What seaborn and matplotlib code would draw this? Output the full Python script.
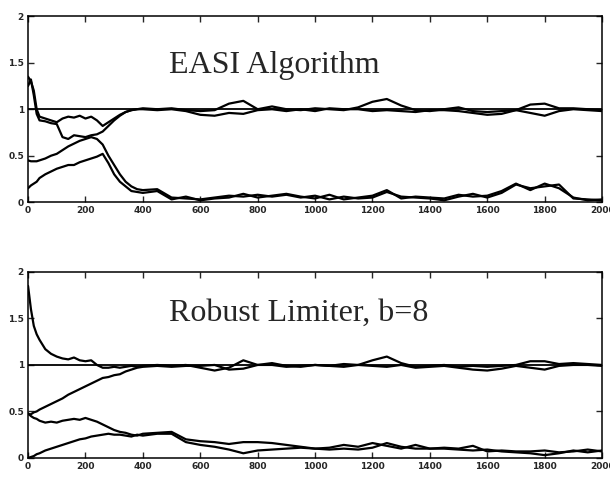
import matplotlib
matplotlib.use("Agg")
import matplotlib.pyplot as plt
import seaborn as sns

# sample positions (iterations)
iters = [0, 10, 20, 30, 40, 60, 80, 100, 120, 140, 160, 180, 200, 220, 240, 260,
         280, 300, 320, 340, 360, 380, 400, 450, 500, 550, 600, 650, 700, 750, 800,
         850, 900, 950, 1000, 1050, 1100, 1150, 1200, 1250, 1300, 1350, 1400, 1450,
         1500, 1550, 1600, 1650, 1700, 1750, 1800, 1850, 1900, 1950, 2000]

ref_level = 1.0

# EASI algorithm
easi_a = [1.35, 1.30, 1.20, 1.00, 0.92, 0.90, 0.88, 0.86, 0.90, 0.92, 0.91, 0.93, 0.90, 0.92,
          0.88, 0.82, 0.86, 0.90, 0.94, 0.97, 0.99, 1.00, 1.01, 1.00, 1.01, 0.99, 0.98, 0.99,
          1.06, 1.09, 1.00, 1.03, 1.00, 0.99, 1.01, 1.00, 0.99, 1.02, 1.08, 1.11, 1.04, 0.99,
          0.98, 1.00, 1.02, 0.98, 0.97, 0.98, 0.99, 1.05, 1.06, 1.01, 1.01, 1.00, 0.99]
easi_b = [1.25, 1.32, 1.15, 0.95, 0.88, 0.87, 0.85, 0.84, 0.70, 0.68, 0.72, 0.71, 0.70, 0.72,
          0.73, 0.76, 0.82, 0.88, 0.93, 0.97, 0.99, 1.00, 1.00, 0.99, 1.00, 0.98, 0.94, 0.93,
          0.96, 0.95, 0.99, 1.00, 0.98, 1.00, 0.98, 1.01, 1.00, 1.00, 0.98, 0.99, 0.98, 0.97,
          0.99, 0.99, 0.98, 0.96, 0.94, 0.95, 0.99, 0.96, 0.93, 0.98, 1.00, 0.99, 0.98]
easi_c = [0.45, 0.44, 0.44, 0.44, 0.45, 0.47, 0.50, 0.52, 0.56, 0.60, 0.63, 0.66, 0.68, 0.70,
          0.68, 0.62, 0.50, 0.40, 0.30, 0.22, 0.17, 0.14, 0.13, 0.14, 0.05, 0.04, 0.03, 0.05,
          0.07, 0.06, 0.08, 0.06, 0.08, 0.05, 0.07, 0.03, 0.06, 0.04, 0.05, 0.11, 0.06, 0.05,
          0.04, 0.02, 0.06, 0.09, 0.05, 0.10, 0.19, 0.15, 0.17, 0.19, 0.04, 0.03, 0.02]
easi_d = [0.15, 0.18, 0.20, 0.22, 0.26, 0.30, 0.33, 0.36, 0.38, 0.40, 0.40, 0.43, 0.45, 0.47,
          0.49, 0.52, 0.42, 0.30, 0.22, 0.17, 0.12, 0.11, 0.10, 0.12, 0.03, 0.06, 0.02, 0.04,
          0.05, 0.09, 0.05, 0.07, 0.09, 0.06, 0.04, 0.08, 0.03, 0.05, 0.07, 0.13, 0.04, 0.06,
          0.05, 0.04, 0.08, 0.06, 0.07, 0.12, 0.20, 0.13, 0.20, 0.15, 0.05, 0.02, 0.03]

# robust limiter, b=8
rob_e = [1.85, 1.60, 1.42, 1.33, 1.27, 1.17, 1.12, 1.09, 1.07, 1.06, 1.08, 1.05, 1.04, 1.05,
         1.00, 0.97, 0.97, 0.98, 0.97, 0.98, 0.99, 0.98, 0.99, 1.00, 0.99, 1.00, 0.97, 0.94,
         0.97, 1.05, 1.00, 1.02, 0.99, 0.98, 1.00, 0.99, 1.01, 1.00, 1.05, 1.09, 1.02, 0.98,
         0.99, 1.00, 0.98, 0.99, 0.98, 0.99, 1.00, 1.04, 1.04, 1.01, 1.02, 1.01, 1.00]
rob_f = [0.47, 0.47, 0.49, 0.50, 0.52, 0.55, 0.58, 0.61, 0.64, 0.68, 0.71, 0.74, 0.77, 0.80,
         0.83, 0.86, 0.87, 0.89, 0.90, 0.93, 0.95, 0.97, 0.98, 0.99, 0.98, 0.99, 0.99, 1.00,
         0.95, 0.96, 1.00, 1.00, 0.98, 0.99, 1.00, 0.99, 0.98, 1.00, 0.99, 0.98, 1.00, 0.97,
         0.98, 0.99, 0.97, 0.95, 0.94, 0.96, 0.99, 0.97, 0.95, 0.99, 1.00, 1.00, 0.99]
rob_g = [0.48, 0.45, 0.43, 0.42, 0.40, 0.38, 0.39, 0.38, 0.40, 0.41, 0.42, 0.41, 0.43, 0.41,
         0.39, 0.36, 0.33, 0.30, 0.28, 0.27, 0.25, 0.24, 0.26, 0.27, 0.28, 0.20, 0.18, 0.17,
         0.15, 0.17, 0.17, 0.16, 0.14, 0.12, 0.10, 0.11, 0.14, 0.12, 0.16, 0.13, 0.10, 0.14,
         0.10, 0.11, 0.10, 0.13, 0.07, 0.08, 0.07, 0.07, 0.08, 0.06, 0.07, 0.09, 0.07]
rob_h = [0.00, 0.01, 0.02, 0.04, 0.05, 0.08, 0.10, 0.12, 0.14, 0.16, 0.18, 0.20, 0.21, 0.23,
         0.24, 0.25, 0.26, 0.25, 0.25, 0.24, 0.23, 0.25, 0.24, 0.26, 0.26, 0.17, 0.14, 0.12,
         0.09, 0.05, 0.08, 0.09, 0.10, 0.11, 0.10, 0.09, 0.10, 0.09, 0.11, 0.16, 0.12, 0.10,
         0.10, 0.10, 0.09, 0.08, 0.09, 0.07, 0.06, 0.05, 0.03, 0.05, 0.08, 0.06, 0.08]

xticks = [0, 200, 400, 600, 800, 1000, 1200, 1400, 1600, 1800, 2000]
yticks = [0, 0.5, 1, 1.5, 2]
ylabels = ["0", "0.5", "1", "1.5", "2"]

sns.set_style("ticks")
plt.rcParams['font.family'] = ['DejaVu Sans']

fig = plt.figure(figsize=(6.1, 4.78), dpi=100)
ax1 = fig.add_axes([0.046, 0.577, 0.941, 0.389])
ax2 = fig.add_axes([0.046, 0.042, 0.941, 0.389])

panels = [
    (ax1, [easi_a, easi_b, easi_c, easi_d], "EASI Algorithm", 857, 1.47),
    (ax2, [rob_e, rob_f, rob_g, rob_h], "Robust Limiter, b=8", 942, 1.56),
]

for ax, curves, title, tx, ty in panels:
    ax.axhline(ref_level, color="black", lw=1.3)
    for c in curves:
        sns.lineplot(x=iters, y=c, ax=ax, color="black", lw=1.6)
    ax.set_xlim(0, 2000)
    ax.set_ylim(0, 2)
    ax.set_xticks(xticks)
    ax.set_xticklabels([str(t) for t in xticks])
    ax.set_yticks(yticks)
    ax.set_yticklabels(ylabels)
    ax.tick_params(direction="in", length=4, width=1, top=True, right=True,
                   labelsize=6.5, pad=3)
    for lab in ax.get_xticklabels() + ax.get_yticklabels():
        lab.set_fontweight("bold")
    for s in ax.spines.values():
        s.set_linewidth(1.1)
        s.set_color("black")
    ax.text(tx, ty, title, ha="center", va="center", fontsize=23,
            family=["Liberation Serif", "DejaVu Serif"])

fig.savefig("out.png", dpi=100)
